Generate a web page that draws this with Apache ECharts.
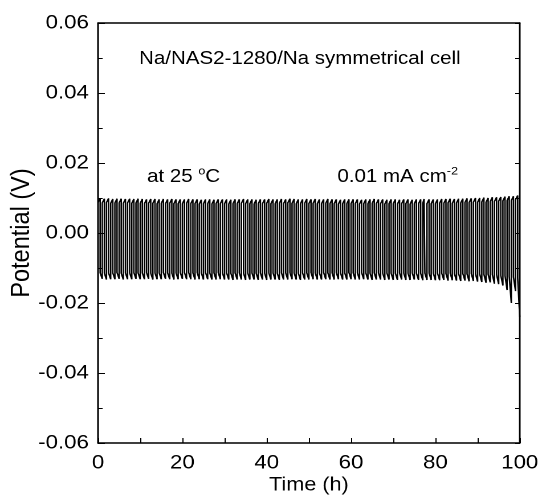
<!DOCTYPE html>
<html>
<head>
<meta charset="utf-8">
<script src="https://cdn.jsdelivr.net/npm/echarts@6/dist/echarts.min.js"></script>
<style>
html,body{margin:0;padding:0;background:#fff;overflow:hidden;}
#wrap{width:538px;height:500px;overflow:hidden;}
#chart{width:472px;height:500px;transform:scaleX(1.1398);transform-origin:0 0;}
</style>
</head>
<body>
<div id="wrap"><div id="chart"></div></div>
<script>
// Per-cycle plateau values (mV), one cycle per hour, 100 cycles
const upStart = [
8.7,8.6,8.7,8.5,8.6,8.6,8.5,8.6,8.5,8.6,
8.5,8.4,8.5,8.5,8.4,8.5,8.4,8.5,8.4,8.4,
8.4,8.5,8.4,8.4,8.3,8.4,8.4,8.3,8.4,8.4,
8.4,8.3,8.4,8.4,8.5,8.4,8.4,8.3,8.4,8.4,
8.5,8.4,8.4,8.5,8.4,8.6,8.5,8.4,8.4,8.5,
8.4,8.5,8.4,8.4,8.5,8.4,8.4,8.3,8.4,8.4,
8.4,8.4,8.3,8.4,8.4,8.5,8.4,8.4,8.3,8.4,
8.4,8.3,8.4,8.4,8.3,8.4,8.4,8.5,8.4,8.4,
8.4,8.5,8.5,8.6,8.5,8.6,8.6,8.7,8.7,8.8,
8.8,8.9,8.8,9.0,9.0,9.1,9.2,9.3,9.3,9.5
];
const upEnd = [
9.9,9.8,9.9,9.7,9.8,9.8,9.7,9.8,9.7,9.8,
9.7,9.6,9.7,9.7,9.6,9.7,9.6,9.7,9.6,9.6,
9.6,9.7,9.6,9.6,9.5,9.6,9.6,9.5,9.6,9.6,
9.6,9.5,9.6,9.6,9.7,9.6,9.6,9.5,9.6,9.6,
9.7,9.6,9.6,9.7,9.6,9.8,9.7,9.6,9.6,9.7,
9.6,9.7,9.6,9.6,9.7,9.6,9.6,9.5,9.6,9.6,
9.6,9.6,9.5,9.6,9.6,9.7,9.6,9.6,9.5,9.6,
9.6,9.5,9.6,9.6,9.5,9.6,9.6,9.7,9.6,9.6,
9.6,9.7,9.7,9.8,9.7,9.8,9.8,9.9,9.9,10.0,
10.0,10.1,10.0,10.2,10.2,10.3,10.4,10.5,10.5,10.7
];
const lowStart = [
-11.4,-11.5,-11.4,-11.4,-11.3,-11.5,-11.4,-11.4,-11.3,-11.4,
-11.4,-11.3,-11.5,-11.4,-11.4,-11.3,-11.4,-11.5,-11.4,-11.3,
-11.3,-11.3,-11.4,-11.3,-11.4,-11.3,-11.4,-11.4,-11.3,-11.4,
-11.4,-11.5,-11.4,-11.4,-11.5,-11.4,-11.4,-11.5,-11.4,-11.5,
-11.4,-11.4,-11.5,-11.4,-11.4,-11.3,-11.4,-11.5,-11.4,-11.4,
-11.3,-11.4,-11.4,-11.3,-11.4,-11.4,-11.3,-11.4,-11.4,-11.3,
-11.4,-11.4,-11.3,-11.4,-11.5,-11.4,-11.4,-11.5,-11.4,-11.5,
-11.5,-11.4,-11.5,-11.5,-11.4,-11.5,-11.5,-11.5,-11.5,-11.5,
-11.5,-11.5,-11.6,-11.5,-11.6,-11.6,-11.6,-11.7,-11.6,-11.7,
-11.7,-11.8,-11.8,-11.9,-11.9,-12.1,-12.2,-12.4,-12.6,-12.8
];
const lowEnd = [
-13.1,-13.3,-13.2,-13.2,-13.1,-13.3,-13.2,-13.2,-13.1,-13.2,
-13.2,-13.1,-13.3,-13.2,-13.2,-13.1,-13.2,-13.3,-13.2,-13.1,
-13.2,-13.2,-13.3,-13.2,-13.3,-13.2,-13.3,-13.3,-13.2,-13.3,
-13.3,-13.4,-13.3,-13.3,-13.4,-13.3,-13.3,-13.4,-13.3,-13.4,
-13.3,-13.3,-13.4,-13.3,-13.3,-13.2,-13.3,-13.4,-13.3,-13.3,
-13.2,-13.3,-13.3,-13.2,-13.3,-13.3,-13.2,-13.3,-13.3,-13.2,
-13.3,-13.3,-13.2,-13.3,-13.4,-13.3,-13.3,-13.4,-13.3,-13.4,
-13.4,-13.3,-13.4,-13.4,-13.3,-13.4,-13.5,-13.4,-13.4,-13.5,
-13.5,-13.4,-13.6,-13.5,-13.6,-13.7,-13.6,-13.8,-13.7,-13.9,
-14.0,-14.2,-14.1,-14.5,-14.6,-15.0,-16.3,-20.0,-16.6,-24.0
];
// single downward glitch during charge half
const glitchTime = [77.3];
const glitchValue = [4.7];

const xTicks = [0, 20, 40, 60, 80, 100];
const yTicks = [-0.06, -0.04, -0.02, 0.00, 0.02, 0.04, 0.06];

const data = [];
for (let k = 0; k < upEnd.length; k++) {
  data.push([k, upStart[k] / 1000]);
  for (let g = 0; g < glitchTime.length; g++) {
    if (glitchTime[g] > k && glitchTime[g] < k + 0.5) {
      data.push([glitchTime[g], upEnd[k] / 1000]);
      data.push([glitchTime[g], glitchValue[g] / 1000]);
      data.push([glitchTime[g], upEnd[k] / 1000]);
    }
  }
  data.push([k + 0.5, upEnd[k] / 1000]);
  data.push([k + 0.5, lowStart[k] / 1000]);
  data.push([k + 1, lowEnd[k] / 1000]);
}

const FONT = 'Liberation Sans, Arial, sans-serif';
const chart = echarts.init(document.getElementById('chart'), null, {devicePixelRatio: 2});
const axLine = {show: true, onZero: false, lineStyle: {color: '#000', width: 1.5}};
const supStyle = {fontFamily: FONT, fontSize: 11, color: '#000', lineHeight: 11, verticalAlign: 'top'};
chart.setOption({
  animation: false,
  backgroundColor: '#fff',
  grid: {left: 86, right: 16, top: 23, bottom: 57, containLabel: false, outerBoundsMode: 'none'},
  title: [
    {text: 'Na/NAS2-1280/Na symmetrical cell', left: 122, top: 50, padding: 0,
     textStyle: {fontFamily: FONT, fontSize: 18, fontWeight: 'normal', color: '#000'}},
    {text: 'at 25 {sup|o}C', left: 129, top: 166, padding: 0,
     textStyle: {fontFamily: FONT, fontSize: 18, fontWeight: 'normal', color: '#000', lineHeight: 22,
       rich: {sup: supStyle}}},
    {text: '0.01 mA cm{sup|-2}', left: 296, top: 166, padding: 0,
     textStyle: {fontFamily: FONT, fontSize: 18, fontWeight: 'normal', color: '#000', lineHeight: 22,
       rich: {sup: supStyle}}}
  ],
  xAxis: [{
    type: 'value', min: xTicks[0], max: xTicks[xTicks.length - 1], interval: xTicks[1] - xTicks[0],
    position: 'bottom',
    axisLine: axLine,
    axisTick: {show: true, inside: true, length: 5, lineStyle: {color: '#000', width: 1}},
    minorTick: {show: true, splitNumber: 2, length: 5, lineStyle: {color: '#000', width: 1}},
    axisLabel: {fontFamily: FONT, fontSize: 19.5, color: '#000', margin: 10},
    splitLine: {show: false},
    name: 'Time (h)', nameLocation: 'middle', nameGap: 33, nameMoveOverlap: false,
    nameTextStyle: {fontFamily: FONT, fontSize: 19, color: '#000'}
  }, {
    type: 'value', min: xTicks[0], max: xTicks[xTicks.length - 1], position: 'top',
    axisLine: axLine, axisTick: {show: false}, axisLabel: {show: false}, splitLine: {show: false}
  }],
  yAxis: [{
    type: 'value', min: yTicks[0], max: yTicks[yTicks.length - 1], interval: yTicks[1] - yTicks[0],
    position: 'left',
    axisLine: axLine,
    axisTick: {show: true, inside: true, length: 6, lineStyle: {color: '#000', width: 1}},
    minorTick: {show: true, splitNumber: 2, length: 4, lineStyle: {color: '#000', width: 1}},
    axisLabel: {fontFamily: FONT, fontSize: 19.5, color: '#000', margin: 8,
      formatter: v => (Math.abs(v) < 1e-9 ? 0 : v).toFixed(2)},
    splitLine: {show: false},
    name: 'Potential (V)', nameLocation: 'middle', nameGap: 55, nameMoveOverlap: false,
    nameTextStyle: {fontFamily: FONT, fontSize: 23.5, color: '#000'}
  }, {
    type: 'value', min: yTicks[0], max: yTicks[yTicks.length - 1], interval: yTicks[1] - yTicks[0],
    position: 'right',
    axisLine: axLine,
    axisTick: {show: true, inside: true, length: 4, lineStyle: {color: '#000', width: 1}},
    minorTick: {show: true, splitNumber: 2, length: 4, lineStyle: {color: '#000', width: 1}},
    axisLabel: {show: false},
    splitLine: {show: false}
  }],
  series: [{
    type: 'line', data: data, xAxisIndex: 0, yAxisIndex: 0,
    showSymbol: false, symbol: 'none', sampling: false,
    lineStyle: {color: '#000', width: 1.3}
  }]
});
</script>
</body>
</html>
